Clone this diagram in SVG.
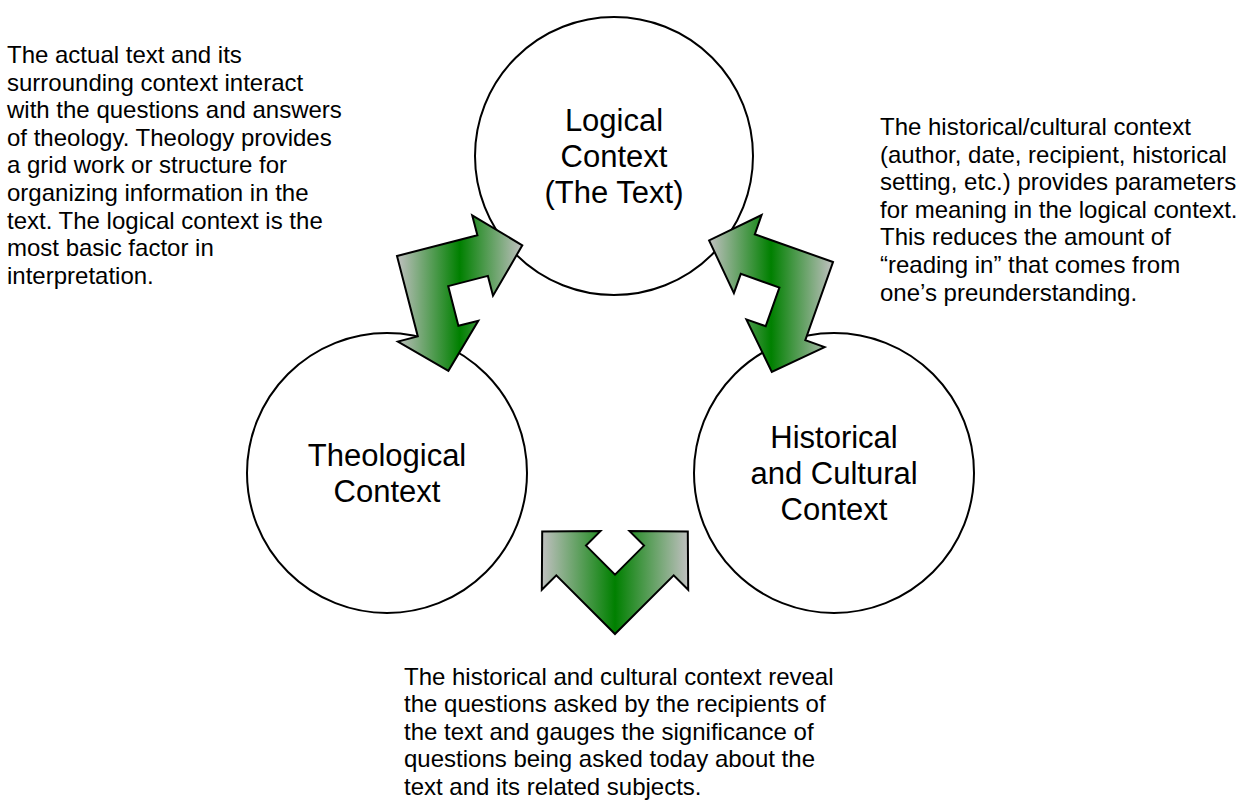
<svg xmlns="http://www.w3.org/2000/svg" width="1256" height="800" viewBox="0 0 1256 800">
  <style>
    .ring { fill: #ffffff; stroke: #000000; stroke-width: 2; }
    .arrow { fill: url(#greenBand); stroke: #000000; stroke-width: 2; stroke-linejoin: miter; }
    .label { font-family: "Liberation Sans", Arial, sans-serif; font-size: 31px; fill: #000000; text-anchor: middle; }
    .note { font-family: "Liberation Sans", Arial, sans-serif; font-size: 24px; fill: #000000; }
  </style>
  <defs>
    <linearGradient id="greenBand" x1="0" y1="0" x2="1" y2="0">
      <stop offset="0" stop-color="#c0c0c0"/>
      <stop offset="0.5" stop-color="#008000"/>
      <stop offset="1" stop-color="#c0c0c0"/>
    </linearGradient>
  </defs>
  <rect width="1256" height="800" fill="#ffffff"/>

  <!-- context circles -->
  <g id="logical">
    <circle class="ring" cx="614" cy="156" r="139"/>
    <text class="label" x="614" y="131">Logical</text>
    <text class="label" x="614" y="167">Context</text>
    <text class="label" x="614" y="203">(The Text)</text>
  </g>
  <g id="theological">
    <circle class="ring" cx="387" cy="473" r="140"/>
    <text class="label" x="387" y="466">Theological</text>
    <text class="label" x="387" y="502">Context</text>
  </g>
  <g id="historical">
    <circle class="ring" cx="834" cy="473" r="140"/>
    <text class="label" x="834" y="448">Historical</text>
    <text class="label" x="834" y="484">and Cultural</text>
    <text class="label" x="834" y="520">Context</text>
  </g>

  <!-- double-headed bent arrows between the circles -->
  <g id="connectors">
    <polygon class="arrow" points="397,256 477.4,235.2 472.2,215.4 522.3,245.3 493,295.7 487.9,275.9 448.2,286.1 458.4,325.8 478.3,320.7 448.4,370.8 397.9,341.5 417.8,336.4"/>
    <polygon class="arrow" points="833,262 754.8,234.3 761.6,215 709.1,240.4 733.9,293.2 740.8,273.9 779.4,287.6 765.7,326.2 746.4,319.4 771.8,371.9 824.6,347.1 805.3,340.2"/>
    <polygon class="arrow" points="615,634 673.7,575.3 688.2,589.8 687.8,531.5 629.5,531.1 644,545.6 615,574.6 586,545.6 600.5,531.1 542.2,531.5 541.8,589.8 556.3,575.3"/>
  </g>

  <!-- notes -->
  <g id="note-left">
    <text class="note" x="7" y="63">The actual text and its</text>
    <text class="note" x="7" y="90.6">surrounding context interact</text>
    <text class="note" x="7" y="118.2">with the questions and answers</text>
    <text class="note" x="7" y="145.8">of theology. Theology provides</text>
    <text class="note" x="7" y="173.4">a grid work or structure for</text>
    <text class="note" x="7" y="201">organizing information in the</text>
    <text class="note" x="7" y="228.6">text. The logical context is the</text>
    <text class="note" x="7" y="256.2">most basic factor in</text>
    <text class="note" x="7" y="283.8">interpretation.</text>
  </g>
  <g id="note-right">
    <text class="note" x="880" y="135">The historical/cultural context</text>
    <text class="note" x="880" y="162.6">(author, date, recipient, historical</text>
    <text class="note" x="880" y="190.2">setting, etc.) provides parameters</text>
    <text class="note" x="880" y="217.8">for meaning in the logical context.</text>
    <text class="note" x="880" y="245.4">This reduces the amount of</text>
    <text class="note" x="880" y="273">“reading in” that comes from</text>
    <text class="note" x="880" y="300.6">one’s preunderstanding.</text>
  </g>
  <g id="note-bottom">
    <text class="note" x="404" y="684.6">The historical and cultural context reveal</text>
    <text class="note" x="404" y="712.2">the questions asked by the recipients of</text>
    <text class="note" x="404" y="739.8">the text and gauges the significance of</text>
    <text class="note" x="404" y="767.4">questions being asked today about the</text>
    <text class="note" x="404" y="795">text and its related subjects.</text>
  </g>
</svg>
